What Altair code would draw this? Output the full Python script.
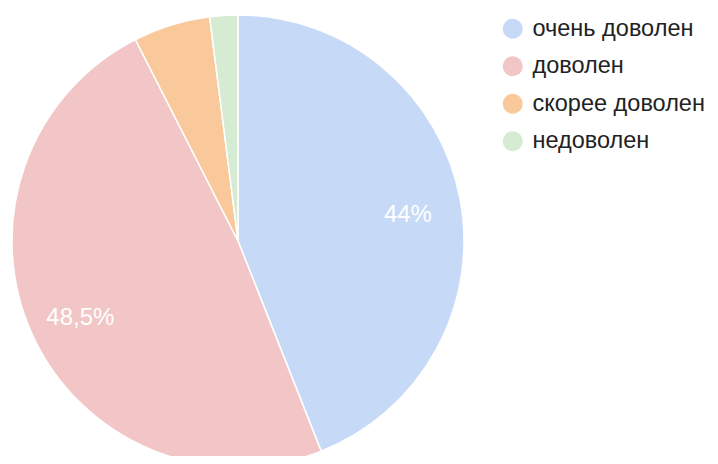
import altair as alt
import pandas as pd

categories = ["очень доволен", "доволен", "скорее доволен", "недоволен"]
values = [44.0, 48.5, 5.5, 2.0]
labels = ["44%", "48,5%", "", ""]
colors = ["#c6d9f7", "#f2c6c6", "#f9c89b", "#d5ebd2"]

df = pd.DataFrame({
    "cat": categories,
    "val": values,
    "label": labels,
    "ord": list(range(len(categories))),
})

cx, cy, r = 230, 233, 226

base = alt.Chart(df).encode(
    theta=alt.Theta("val:Q", stack=True),
    order=alt.Order("ord:Q"),
)

pie = base.mark_arc(radius=r, stroke="white", strokeWidth=1.5).encode(
    x=alt.value(cx),
    y=alt.value(cy),
    color=alt.Color(
        "cat:N",
        scale=alt.Scale(domain=categories, range=colors),
        sort=categories,
        legend=alt.Legend(
            title=None,
            orient="none",
            legendX=493,
            legendY=9,
            symbolType="circle",
            symbolSize=400,
            symbolStrokeWidth=0,
            labelFont="Liberation Sans",
            labelFontSize=23.5,
            labelColor="#222222",
            labelOffset=8,
            labelLimit=300,
            rowPadding=12.5,
            padding=0,
        ),
    ),
)

text = base.mark_text(
    radius=173, dy=6, font="Liberation Sans", fontSize=24, color="white"
).encode(
    x=alt.value(cx),
    y=alt.value(cy),
    text="label:N",
)

chart = (
    alt.layer(pie, text)
    .properties(width=702, height=448, autosize=alt.AutoSizeParams(type="none"), padding=0)
    .configure_view(stroke=None)
)

chart.save("out.html", embed_options={"renderer": "svg", "actions": False})
